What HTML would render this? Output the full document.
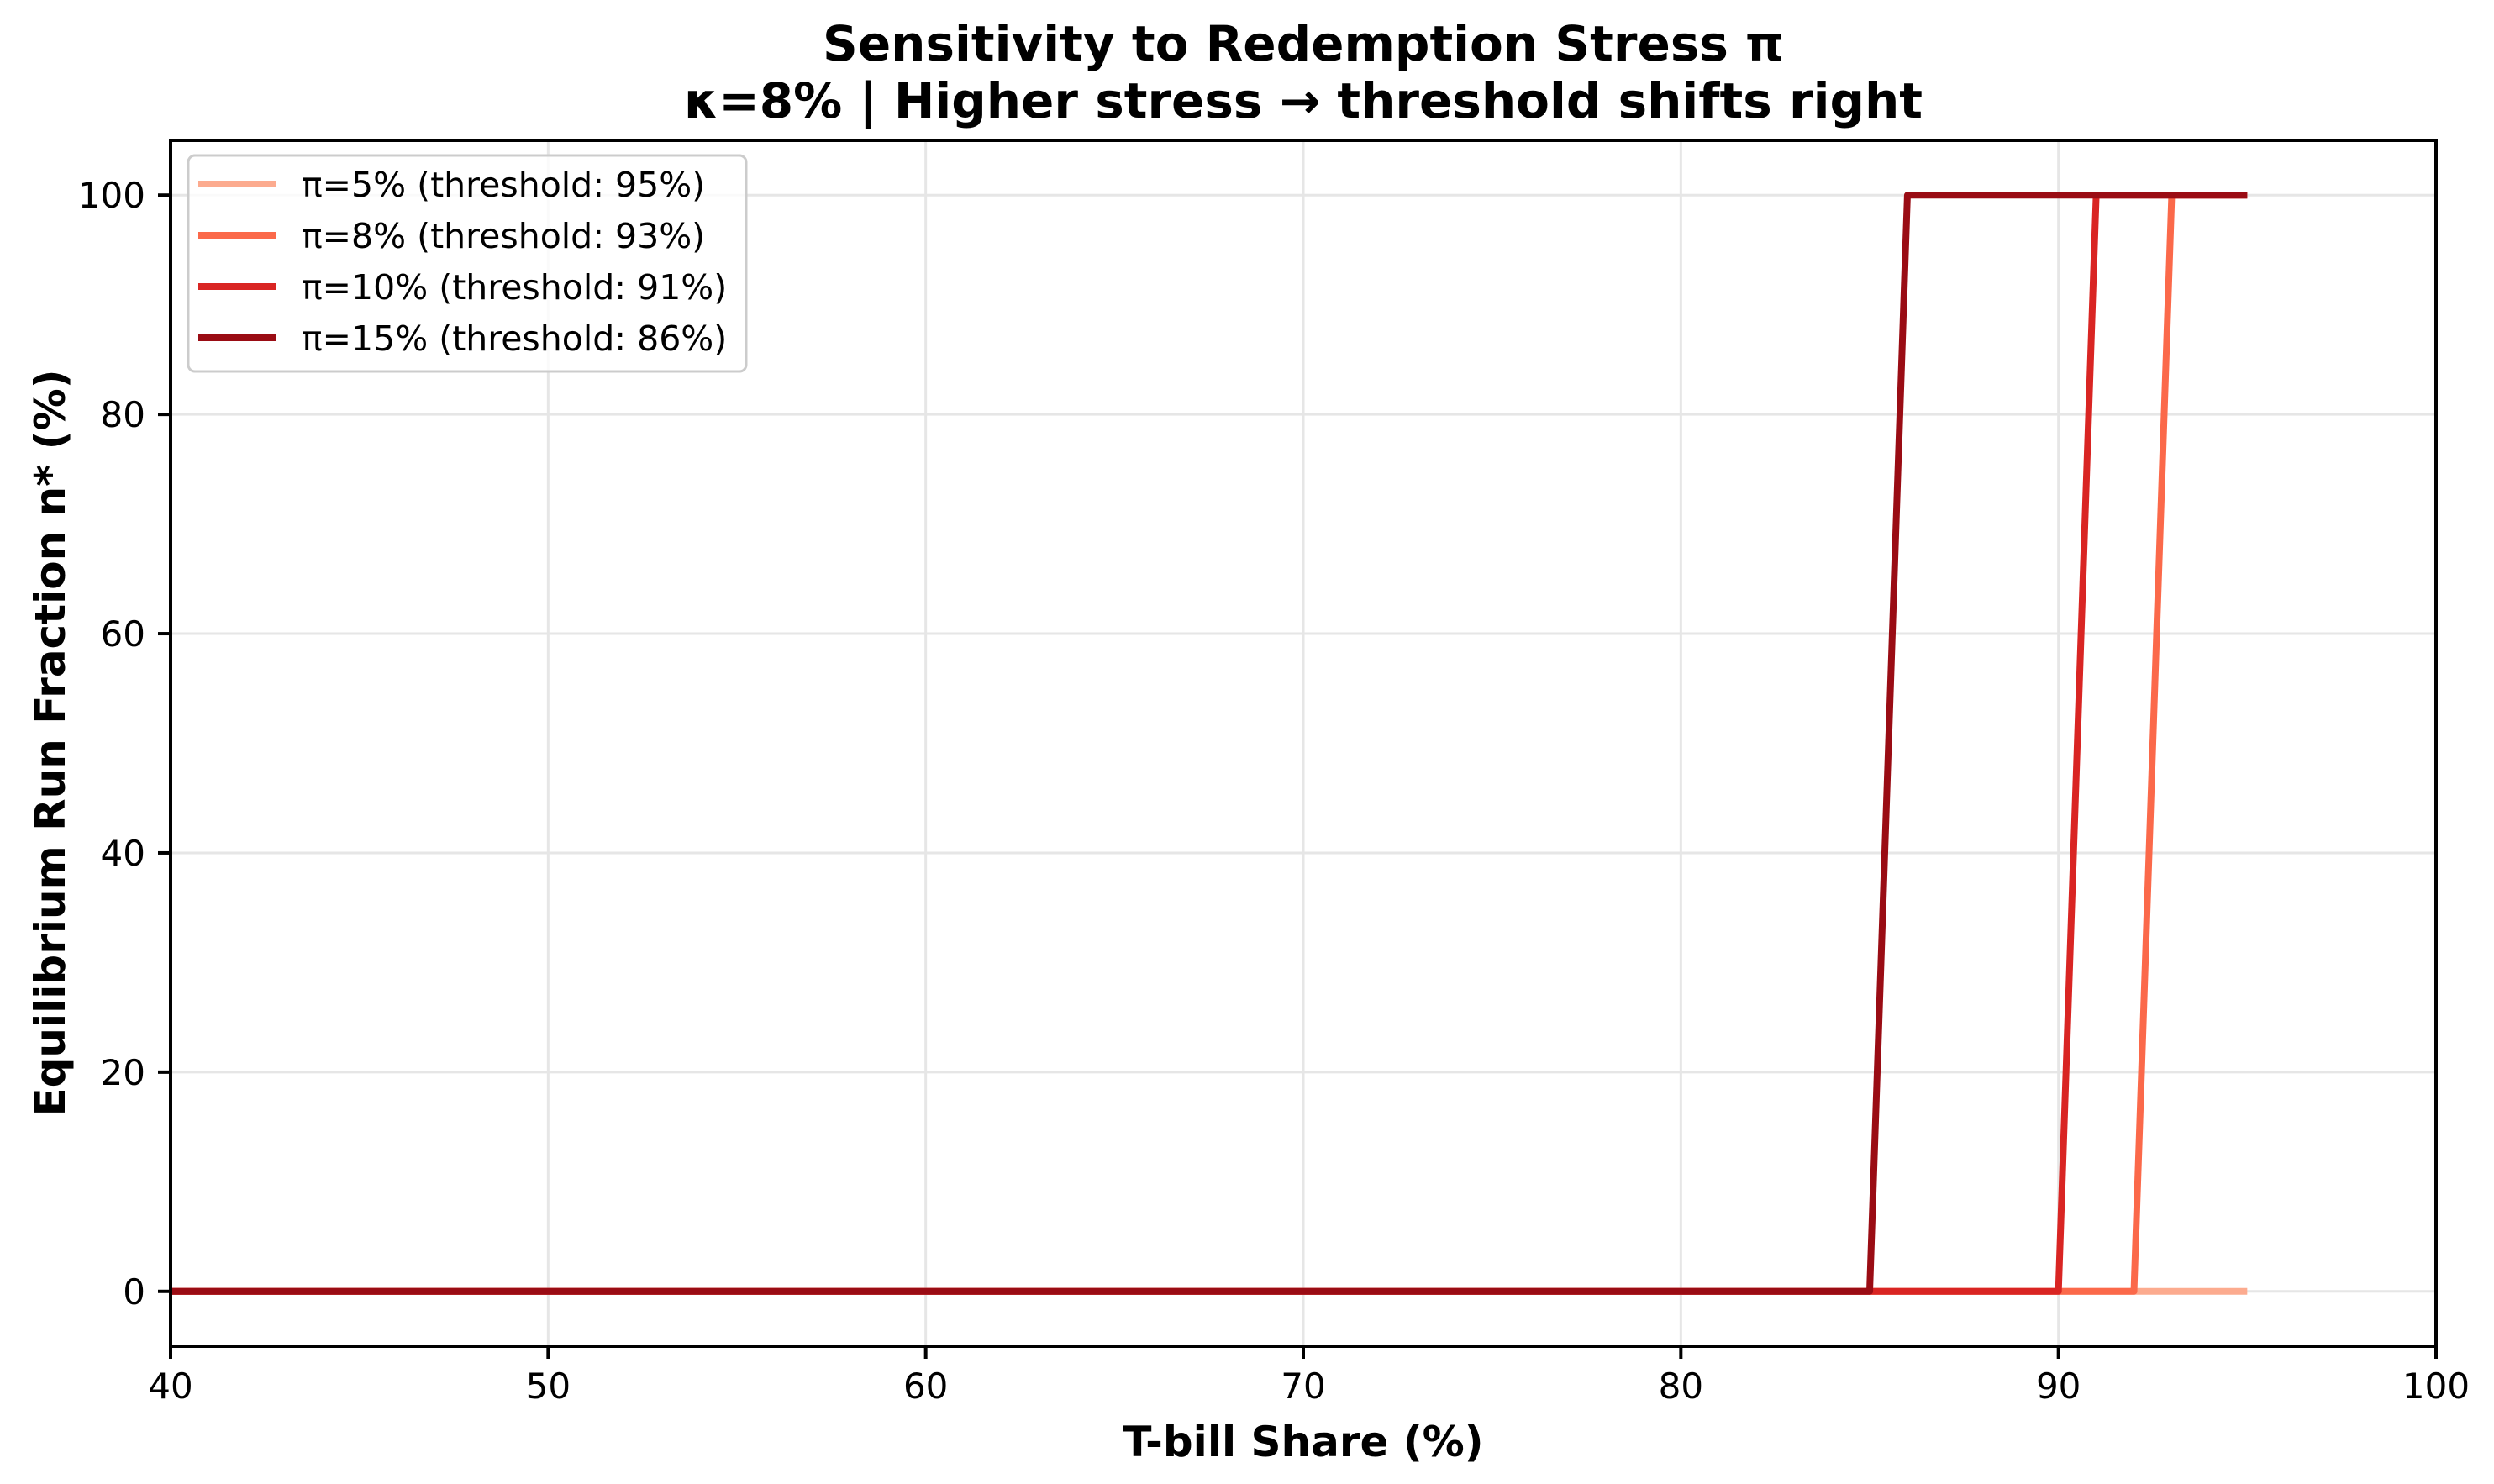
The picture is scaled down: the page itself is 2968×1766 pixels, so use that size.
<!DOCTYPE html>
<html><head><meta charset="utf-8"><style>
html,body{margin:0;padding:0;background:#fff;}
svg{display:block;font-family:"DejaVu Sans","Liberation Sans",sans-serif;}
</style></head><body>
<svg id="chart" width="2968" height="1766" viewBox="0 0 2968 1766" xmlns="http://www.w3.org/2000/svg">
<rect width="2968" height="1766" fill="#fff"/>
<text x="1551" y="72" text-anchor="middle" font-size="58" font-weight="bold">Sensitivity to Redemption Stress π</text>
<text x="1551" y="140" text-anchor="middle" font-size="58" font-weight="bold">κ=8% | Higher stress → threshold shifts right</text>
<g id="grid"></g>
<g id="series"></g>
<g id="axes"></g>
<text x="1551" y="1733" text-anchor="middle" font-size="50" font-weight="bold">T-bill Share (%)</text>
<text transform="translate(77,884) rotate(-90)" text-anchor="middle" font-size="50" font-weight="bold">Equilibrium Run Fraction n* (%)</text>
<g id="legend"></g>
</svg>
<script>
const xTicks = [40, 50, 60, 70, 80, 90, 100];
const yTicks = [0, 20, 40, 60, 80, 100];
const seriesLabels = ["π=5% (threshold: 95%)", "π=8% (threshold: 93%)", "π=10% (threshold: 91%)", "π=15% (threshold: 86%)"];
const seriesColors = ["#fcab8f", "#fb694a", "#d92523", "#9a0c14"];
const s1x = [40, 95];           const s1y = [0, 0];
const s2x = [40, 92, 93, 95];   const s2y = [0, 0, 100, 100];
const s3x = [40, 90, 91, 95];   const s3y = [0, 0, 100, 100];
const s4x = [40, 85, 86, 95];   const s4y = [0, 0, 100, 100];
const seriesX = [s1x, s2x, s3x, s4x];
const seriesY = [s1y, s2y, s3y, s4y];

const L = 203, R = 2899, T = 167, B = 1602;
const xMin = 40, xMax = 100, yMin = -5, yMax = 105;
const sx = v => L + (v - xMin) / (xMax - xMin) * (R - L);
const sy = v => B - (v - yMin) / (yMax - yMin) * (B - T);
const NS = "http://www.w3.org/2000/svg";
function mk(tag, attrs, parent) {
  const e = document.createElementNS(NS, tag);
  for (const k in attrs) e.setAttribute(k, attrs[k]);
  parent.appendChild(e);
  return e;
}
const grid = document.getElementById('grid');
const axes = document.getElementById('axes');
xTicks.forEach(t => {
  const g = mk('line', {x1: sx(t), x2: sx(t), y1: T, y2: B, stroke: '#e6e6e6', 'stroke-width': 3}, grid);
  
  
  const tk = mk('line', {x1: sx(t), x2: sx(t), y1: B, y2: B + 15, stroke: '#000', 'stroke-width': 4}, axes);
  
  
  const lb = mk('text', {x: sx(t), y: 1664, 'text-anchor': 'middle', 'font-size': 42}, axes);
  lb.textContent = t;
  
  
});
yTicks.forEach(t => {
  const g = mk('line', {x1: L, x2: R, y1: sy(t), y2: sy(t), stroke: '#e6e6e6', 'stroke-width': 3}, grid);
  
  
  const tk = mk('line', {x1: L - 15, x2: L, y1: sy(t), y2: sy(t), stroke: '#000', 'stroke-width': 4}, axes);
  
  
  const lb = mk('text', {x: 173, y: sy(t) + 15, 'text-anchor': 'end', 'font-size': 42}, axes);
  lb.textContent = t;
  
  
});
const frame = mk('rect', {x: L, y: T, width: R - L, height: B - T, fill: 'none', stroke: '#000', 'stroke-width': 4}, axes);



const series = document.getElementById('series');
seriesX.forEach((xs, i) => {
  const pts = xs.map((x, j) => sx(x) + ',' + sy(seriesY[i][j])).join(' ');
  const pl = mk('polyline', {points: pts, fill: 'none', stroke: seriesColors[i], 'stroke-width': 8, 'stroke-linejoin': 'round', 'stroke-linecap': 'butt'}, series);
  
  
});

const legend = document.getElementById('legend');
const box = mk('rect', {x: 224, y: 185, width: 664, height: 257, rx: 8, fill: '#fff', 'fill-opacity': 0.8, stroke: '#cccccc', 'stroke-width': 3}, legend);


seriesLabels.forEach((lab, i) => {
  const cy = 219 + i * 61;
  const ln = mk('line', {x1: 236, x2: 328, y1: cy, y2: cy, stroke: seriesColors[i], 'stroke-width': 8}, legend);
  
  
  const tx = mk('text', {x: 359, y: cy + 15, 'font-size': 41}, legend);
  tx.textContent = lab;
  
  
});
</script>
</body></html>
